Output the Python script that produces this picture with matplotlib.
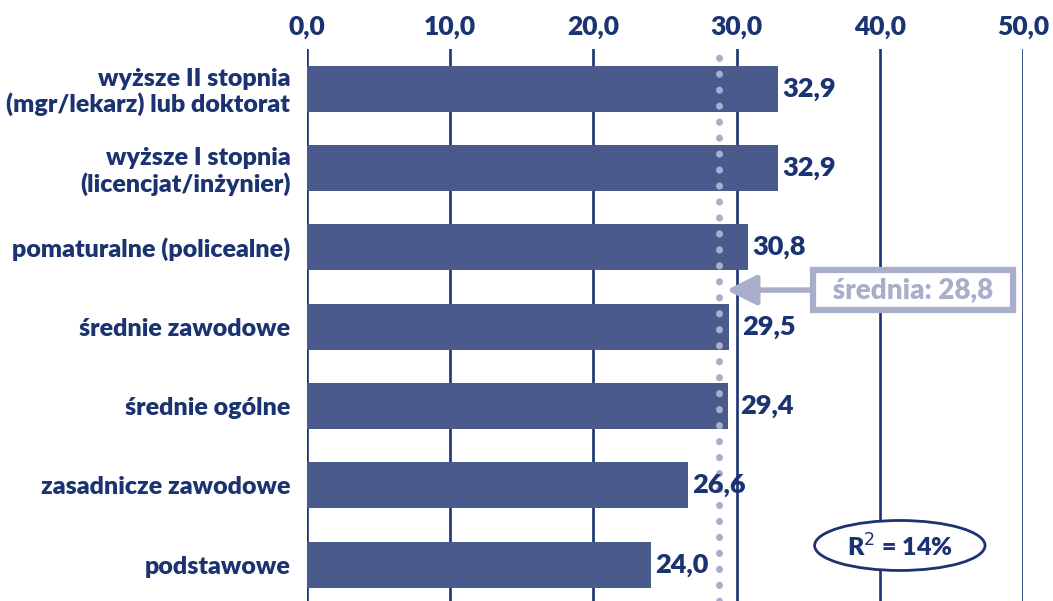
import matplotlib.pyplot as plt
from matplotlib.patches import Ellipse

# wykształcenie vs. średnia wartość wskaźnika
categories = [
    "wyższe II stopnia\n(mgr/lekarz) lub doktorat",
    "wyższe I stopnia\n(licencjat/inżynier)",
    "pomaturalne (policealne)",
    "średnie zawodowe",
    "średnie ogólne",
    "zasadnicze zawodowe",
    "podstawowe",
]
values = [32.9, 32.9, 30.8, 29.5, 29.4, 26.6, 24.0]
mean_value = 28.8
r_squared = 14
xticks = [0, 10, 20, 30, 40, 50]

NAVY = "#1b3370"
BAR = "#4a5a8c"
LAVENDER = "#a9aecb"
W = "heavy"

plt.rcParams["font.family"] = ["Lato", "DejaVu Sans"]


def pl(v):
    return f"{v:.1f}".replace(".", ",")


fig = plt.figure(figsize=(10.53, 6.01), dpi=100)
ax = fig.add_axes([0.2915, 0.0, 0.68, 0.9185])

y = list(range(len(categories)))
for t in xticks:
    ax.axvline(t, color=NAVY, lw=1.9, zorder=1)
ax.barh(y, values, height=0.58, color=BAR, zorder=2)

ax.axvline(mean_value, color=LAVENDER, lw=5, linestyle=(0, (0.05, 2.25)),
           dash_capstyle="round", zorder=3)

for yi, v in zip(y, values):
    # labels right next to the mean line get pushed clear of the dots
    off = 9 if abs(v - mean_value) < 1 else 3
    ax.annotate(pl(v), (v, yi), xytext=(off, 0), textcoords="offset points",
                va="center", ha="left", fontsize=19.5, fontweight=W,
                color=NAVY, zorder=4)

ax.set_xlim(0, 50)
ax.set_ylim(6.46, -0.5)
ax.set_xticks(xticks)
ax.set_xticklabels([pl(t) for t in xticks], fontsize=19, fontweight=W, color=NAVY)
ax.xaxis.tick_top()
ax.tick_params(axis="x", length=0, pad=7)
ax.set_yticks(y)
ax.set_yticklabels(categories, fontsize=18, fontweight=W, color=NAVY,
                   linespacing=1.15, ha="right")
ax.tick_params(axis="y", length=0, pad=12)
for s in ax.spines.values():
    s.set_visible(False)

ax.annotate(f"  średnia: {pl(mean_value)}  ", xy=(29.3, 2.54), xytext=(42.3, 2.54),
            ha="center", va="center", fontsize=20, fontweight=W,
            color=LAVENDER, zorder=5,
            bbox=dict(boxstyle="square,pad=0.25", fc="white", ec=LAVENDER, lw=4.5),
            arrowprops=dict(arrowstyle="-|>,head_length=0.9,head_width=0.45",
                            color=LAVENDER, lw=4, shrinkA=0, shrinkB=0))

ax.add_patch(Ellipse((41.4, 5.76), 11.9, 0.63, fc="white", ec=NAVY, lw=2, zorder=5))
ax.text(41.4, 5.78, f"R$^{{2}}$ = {r_squared}%", ha="center", va="center",
        fontsize=18, fontweight=W, color=NAVY, zorder=6)

fig.savefig("out.png", dpi=100)
